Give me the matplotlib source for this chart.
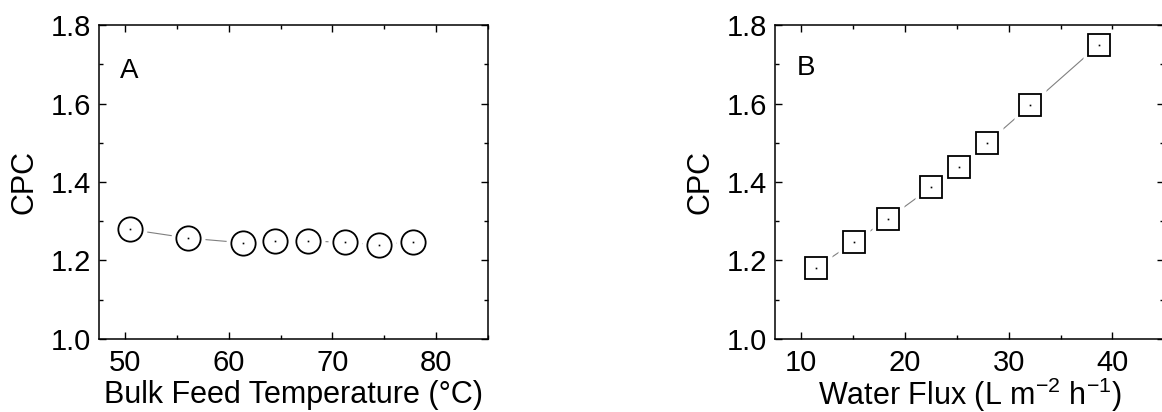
import matplotlib.pyplot as plt

plt.rcParams['font.family'] = ['Liberation Sans', 'DejaVu Sans']
plt.rcParams['mathtext.fontset'] = 'custom'
plt.rcParams['mathtext.rm'] = 'Liberation Sans'

# panel A: CPC vs bulk feed temperature
temp_c = [50.5, 56.1, 61.4, 64.5, 67.6, 71.2, 74.5, 77.8]
cpc_temp = [1.279, 1.257, 1.245, 1.250, 1.250, 1.246, 1.240, 1.248]

# panel B: CPC vs water flux
flux = [11.4, 15.1, 18.4, 22.5, 25.2, 27.9, 32.1, 38.7]
cpc_flux = [1.181, 1.247, 1.307, 1.386, 1.439, 1.499, 1.596, 1.750]

fig = plt.figure(figsize=(11.62, 4.12), dpi=100)
axA = fig.add_axes([0.0852, 0.1772, 0.3348, 0.7621])
axB = fig.add_axes([0.6672, 0.1772, 0.3348, 0.7621])


def draw_series(ax, x, y, marker, ms):
    ax.plot(x, y, color='0.5', lw=0.8, zorder=1)
    # white halo so the connecting line stops short of each symbol
    ax.plot(x, y, ls='none', marker=marker, ms=ms + 7, mfc='white', mec='none', zorder=2)
    ax.plot(x, y, ls='none', marker=marker, ms=ms, mfc='white', mec='black', mew=1.3, zorder=3)
    ax.plot(x, y, ls='none', marker='s', ms=1.2, mfc='black', mec='none', zorder=4)


def style_axes(ax, xlim, xmajor, xlabel, tag, tag_y, label_y):
    ax.set_xlim(*xlim)
    ax.set_ylim(1.0, 1.8)
    ax.set_xticks(xmajor)
    ax.set_xticks([v + 5 for v in xmajor], minor=True)
    ax.set_yticks([1.0, 1.2, 1.4, 1.6, 1.8])
    ax.set_yticks([1.1, 1.3, 1.5, 1.7], minor=True)
    ax.set_yticklabels(['1.0', '1.2', '1.4', '1.6', '1.8'])
    ax.tick_params(which='both', direction='in', top=True, right=True, labelsize=21, width=1.0)
    ax.tick_params(which='major', length=5)
    ax.tick_params(which='minor', length=3)
    ax.tick_params(axis='x', pad=7)
    ax.tick_params(axis='y', pad=6)
    for s in ax.spines.values():
        s.set_linewidth(1.1)
    ax.set_xlabel(xlabel, fontsize=22, va='baseline')
    ax.xaxis.set_label_coords(0.5, label_y)
    ax.set_ylabel('CPC', fontsize=22, labelpad=8)
    ax.text(0.054, tag_y, tag, transform=ax.transAxes, fontsize=20, ha='left', va='top')


draw_series(axA, temp_c, cpc_temp, 'o', 17.5)
style_axes(axA, (47.5, 82.5), [50, 60, 70, 80], 'Bulk Feed Temperature (°C)', 'A', 0.895, -0.205)

draw_series(axB, flux, cpc_flux, 's', 16)
style_axes(axB, (7.5, 42.5), [10, 20, 30, 40],
           r'Water Flux (L m$^{\mathregular{-2}}$ h$^{\mathregular{-1}}$)', 'B', 0.905, -0.21)

fig.savefig('out.png', dpi=100)
